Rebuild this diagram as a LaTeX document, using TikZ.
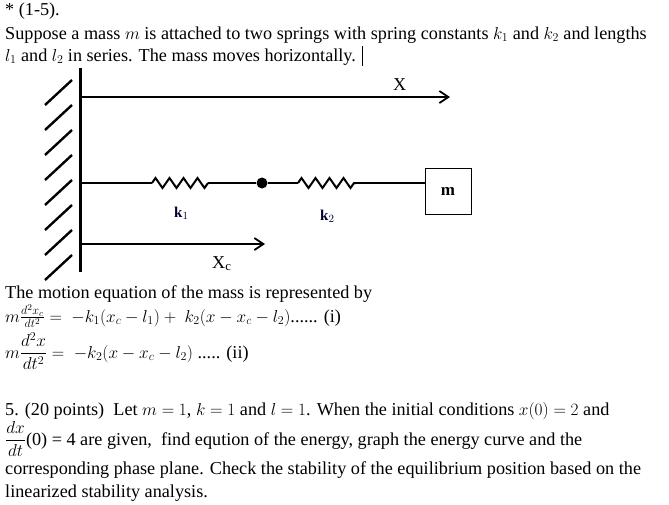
\documentclass[tikz,border=0pt]{standalone}
\usepackage{amsmath}
\usepackage{fontspec}
\setmainfont{Liberation Serif}
\usetikzlibrary{decorations.pathmorphing,arrows.meta}
\begin{document}
\begin{tikzpicture}[x=1pt,y=-1pt,
  txt/.style={anchor=base west,inner sep=0pt,font=\fontsize{18.2}{20}\selectfont},
  wire/.style={line width=2.2pt},
  spr/.style={line width=2pt,decorate,decoration={zigzag,segment length=14pt,amplitude=5pt}},
  axis/.style={line width=1.8pt,-{Straight Barb[length=9pt,width=12pt,line width=1.8pt]}}]
\useasboundingbox (0,0) rectangle (669,504);
\node[txt] (l1) at (5,15) {* (1-5).};
\node[txt] (l2) at (5,39) {Suppose a mass $m$ is attached to two springs with spring constants $k_1$ and $k_2$ and lengths};
\node[txt] (l3) at (5,61) {$l_1$ and $l_2$ in series. The mass moves horizontally.};
\draw (362,46) -- (362,66);
% wall
\draw[line width=3pt] (80,68) -- (80,272);
\foreach \y in {80,105,130,155,180,205,230,255}
  \draw[line width=2.4pt] (72,\y) -- (45,\y+25);
\coordinate (w0) at (80,97);
\coordinate (xe) at (450,97);
\draw[axis] (w0) -- (xe);
\node[txt] (X) at (393,90) {X};
\coordinate (a0) at (80,183);
\coordinate (s1a) at (152,183);
\coordinate (s1b) at (208,183);
\node[circle,fill,inner sep=0pt,minimum width=9pt,minimum height=11pt] (dot) at (262,183) {};
\coordinate (s2a) at (298,183);
\coordinate (s2b) at (356,183);
\node[draw,line width=1pt,minimum width=46pt,minimum height=46pt,inner sep=0pt,font=\bfseries\fontsize{17}{18}\selectfont] (m) at (448,191) {m};
\draw[wire] (a0) -- (s1a);
\draw[spr] (s1a) -- (s1b);
\draw[wire] (s1b) -- (dot) -- (s2a);
\draw[spr] (s2a) -- (s2b);
\draw[wire] (s2b) -- (m.west |- s2b);
\node[txt,font=\bfseries\fontsize{15}{16}\selectfont,text=black!80!blue] (k1) at (174,217) {k$_1$};
\node[txt,font=\bfseries\fontsize{15}{16}\selectfont,text=black!80!blue] (k2) at (320,220) {k$_2$};
\coordinate (c0) at (82,244);
\coordinate (ce) at (265,244);
\draw[axis] (c0) -- (ce);
\node[txt] (Xc) at (212,268) {X$_\mathrm{c}$};
% text
\node[txt] (t1) at (5,298) {The motion equation of the mass is represented by};
\node[txt] (e1) at (5,322) {$m\frac{d^2x_c}{dt^2} =\ -k_1(x_c-l_1)+\ k_2(x-x_c-l_2)$...... (i)};
\node[txt] (e2) at (5,358) {$m\dfrac{d^2x}{dt^2} =\ -k_2(x-x_c-l_2)$ ..... (ii)};
\node[txt] (p1) at (5,415) {5. (20 points)\ \ Let $m=1$, $k=1$ and $l=1$. When the initial conditions $x(0)=2$ and};
\node[txt] (p2) at (5,445) {$\dfrac{dx}{dt}$(0) = 4 are given,\ \ find eqution of the energy, graph the energy curve and the};
\node[txt] (p3) at (5,474) {corresponding phase plane. Check the stability of the equilibrium position based on the};
\node[txt] (p4) at (5,497) {linearized stability analysis.};
\end{tikzpicture}
\end{document}
